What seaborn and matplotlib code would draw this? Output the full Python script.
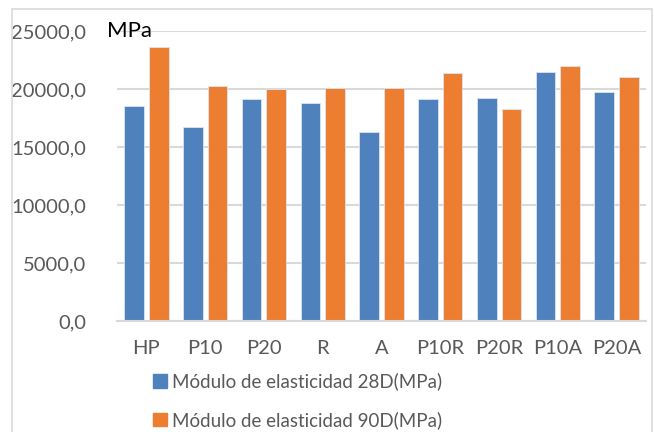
import pandas as pd
import matplotlib.pyplot as plt
import matplotlib.patches as mpatches
import seaborn as sns

categories = ['HP', 'P10', 'P20', 'R', 'A', 'P10R', 'P20R', 'P10A', 'P20A']
mod_28d = [18500, 16750, 19150, 18750, 16300, 19100, 19250, 21500, 19750]
mod_90d = [23600, 20300, 20000, 20050, 20050, 21350, 18300, 22000, 21050]
series = ['Módulo de elasticidad 28D(MPa)', 'Módulo de elasticidad 90D(MPa)']

df = pd.DataFrame({'Mezcla': categories, series[0]: mod_28d, series[1]: mod_90d})
df_long = df.melt(id_vars='Mezcla', var_name='Serie', value_name='Valor')

sns.set_theme(style='white')
plt.rcParams['font.family'] = ['Lato', 'DejaVu Sans']

fig = plt.figure(figsize=(6.54, 4.32), dpi=100)
ax = fig.add_axes([117 / 654, 1 - 321 / 432, (646 - 117) / 654, (321 - 31) / 432])

sns.barplot(
    data=df_long, x='Mezcla', y='Valor', hue='Serie',
    palette=['#4F81BD', '#ED7D31'], saturation=1, width=0.84, gap=0.2,
    edgecolor='#dbe5f1', linewidth=0.6, ax=ax, legend=False,
)

ax.set_ylim(0, 25000)
ax.set_yticks(range(0, 25001, 5000))
ax.set_yticklabels([f'{v},0' for v in range(0, 25001, 5000)])
ax.set_xlabel('')
ax.set_ylabel('')
ax.grid(axis='y', color='#d9d9d9', linewidth=1.5)
ax.set_axisbelow(True)
for s in ['top', 'right', 'left']:
    ax.spines[s].set_visible(False)
ax.spines['bottom'].set_color('#d9d9d9')
ax.spines['bottom'].set_linewidth(1.5)
ax.tick_params(axis='both', length=0, labelsize=14.5, colors='#595959')
ax.tick_params(axis='y', pad=22)
ax.tick_params(axis='x', pad=14)

fig.text(107 / 654, 1 - 31 / 432, 'MPa', fontsize=16, color='black', va='center', ha='left')

# legend below the plot
handles = [mpatches.Patch(color=c) for c in ['#4F81BD', '#ED7D31']]
fig.legend(handles, series, loc='upper left', bbox_to_anchor=(145 / 654, 1 - 365 / 432),
           frameon=False, fontsize=13.5, labelcolor='#595959', handlelength=0.75,
           handleheight=0.75, handletextpad=0.3, labelspacing=1.1, borderaxespad=0)

# chart border
fig.patches.append(mpatches.Rectangle((12 / 654, -0.05), (652 - 12) / 654, 1.05 - 9 / 432,
                                      transform=fig.transFigure, fill=False,
                                      edgecolor='#d9d9d9', linewidth=1.2))

plt.savefig('out.png', dpi=100)
